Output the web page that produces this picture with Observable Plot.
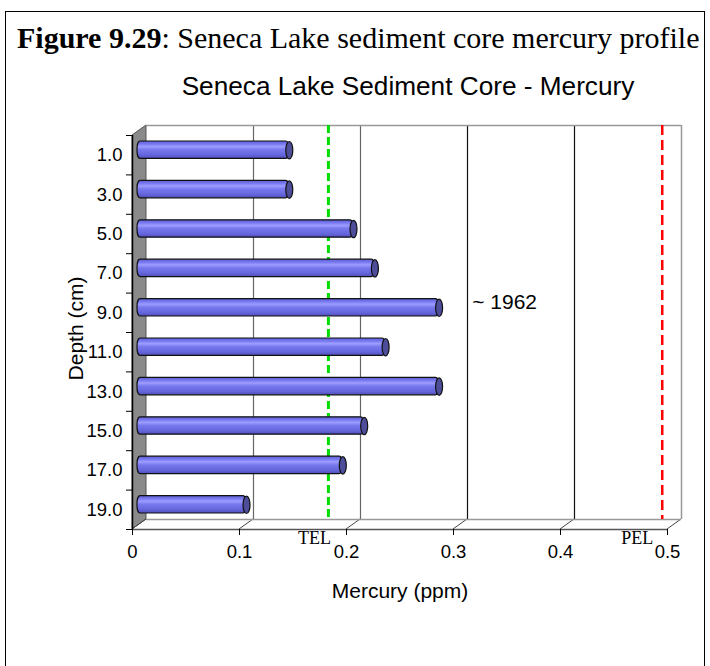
<!DOCTYPE html>
<html>
<head>
<meta charset="utf-8">
<script src="https://cdn.jsdelivr.net/npm/d3@7"></script>
<script src="https://cdn.jsdelivr.net/npm/@observablehq/plot@0.6"></script>
<style>
html, body { margin: 0; padding: 0; background: #fff; width: 710px; height: 666px; overflow: hidden; }
#chart { position: absolute; left: 0; top: 0; }
#frame { position: absolute; left: 5px; top: 11px; width: 700px; height: 720px; border: 1.5px solid #000; box-sizing: border-box; pointer-events: none; }
#title { position: absolute; left: 17px; top: 23px; font-family: "Liberation Serif", "Times New Roman", serif; font-size: 30px; line-height: 30px; white-space: nowrap; color: #000; }
#subtitle { position: absolute; left: 0; width: 816px; text-align: center; top: 73px; font-family: "Liberation Sans", Arial, sans-serif; font-size: 26.2px; line-height: 26px; white-space: nowrap; color: #000; }
</style>
</head>
<body>
<div id="chart"></div>
<div id="frame"></div>
<div id="title"><b>Figure 9.29</b>: Seneca Lake sediment core mercury profile</div>
<div id="subtitle">Seneca Lake Sediment Core - Mercury</div>
<script>
// ---- data ----
const depths = [1, 3, 5, 7, 9, 11, 13, 15, 17, 19];
const mercury = [0.14, 0.14, 0.20, 0.22, 0.28, 0.23, 0.28, 0.21, 0.19, 0.10];
const xTicks = [0, 0.1, 0.2, 0.3, 0.4, 0.5];
const gridValues = [0.1, 0.2, 0.3, 0.4];
const depthBoundaries = [0, 2, 4, 6, 8, 10, 12, 14, 16, 18, 20];
const thresholdNames = ["TEL", "PEL"];
const thresholdValues = [0.17, 0.482];
const annotationLabels = ["~ 1962"];
const annotationDepths = [9];
const annotationValues = [0.31];

const data = depths.map((d, i) => ({depth: d, mercury: mercury[i]}));
const thresholds = thresholdNames.map((n, i) => ({name: n, value: thresholdValues[i]}));
const annotations = annotationLabels.map((t, i) => ({label: t, depth: annotationDepths[i], value: annotationValues[i]}));

// 3D depth offset (pixels) of back wall
const DX = 14, DY = -10;
const sans = "'Liberation Sans', Arial, sans-serif";
const serif = "'Liberation Serif', 'Times New Roman', serif";

// ellipse symbol for the cylinder end caps
const ellipse = {
  draw(ctx) {
    const rx = 3.5, ry = 8.7, k = 0.5523;
    ctx.moveTo(rx, 0);
    ctx.bezierCurveTo(rx, ry * k, rx * k, ry, 0, ry);
    ctx.bezierCurveTo(-rx * k, ry, -rx, ry * k, -rx, 0);
    ctx.bezierCurveTo(-rx, -ry * k, -rx * k, -ry, 0, -ry);
    ctx.bezierCurveTo(rx * k, -ry, rx, -ry * k, rx, 0);
    ctx.closePath();
  }
};

// side wall and floor drawn with the plot's own scales
function frame3d(index, scales) {
  const x = scales.x, y = scales.y;
  const g = d3.create("svg:g");
  const x0 = x(xTicks[0]), yt = y(depthBoundaries[0]), yb = y(depthBoundaries[depthBoundaries.length - 1]);
  g.append("polygon")
    .attr("points", [[x0, yt], [x0 + DX, yt + DY], [x0 + DX, yb + DY], [x0, yb]].map(p => p.join(",")).join(" "))
    .attr("fill", "#8a8a8a").attr("stroke", "#555").attr("stroke-width", 1);
  for (const t of xTicks) {
    g.append("line")
      .attr("x1", x(t)).attr("y1", yb).attr("x2", x(t) + DX).attr("y2", yb + DY)
      .attr("stroke", "#444").attr("stroke-width", 1);
  }
  return g.node();
}

const svg = Plot.plot({
  width: 710,
  height: 620,
  marginLeft: 132,
  marginRight: 43,
  marginTop: 135,
  marginBottom: 91,
  style: {background: "transparent", overflow: "visible", fontFamily: sans, fontSize: "18px", color: "#000"},
  x: {domain: [0, 0.5]},
  y: {domain: [0, 20], reverse: true},
  marks: [
    frame3d,
    // back wall grid
    Plot.ruleX(gridValues.slice(0, 2), {y1: 0, y2: 20, dx: DX, dy: DY, stroke: "#666", strokeWidth: 1.2}),
    Plot.ruleX(gridValues.slice(2), {y1: 0, y2: 20, dx: DX, dy: DY, stroke: "#111", strokeWidth: 1.2}),
    Plot.ruleX([0.5], {y1: 0, y2: 20, dx: DX, dy: DY, stroke: "#999", strokeWidth: 1.5}),
    Plot.ruleY([0], {x1: 0, x2: 0.5, dx: DX, dy: DY, stroke: "#999", strokeWidth: 1.5}),
    Plot.ruleY([20], {x1: 0, x2: 0.5, dx: DX, dy: DY, stroke: "#999", strokeWidth: 1.5}),
    // threshold lines
    Plot.ruleX([thresholds[0]], {x: "value", y1: 0, y2: 20, dx: DX, dy: DY, stroke: "#00dd00", strokeWidth: 3, strokeDasharray: "8,4"}),
    Plot.ruleX([thresholds[1]], {x: "value", y1: 0, y2: 20, dx: DX, dy: DY, stroke: "#ff0000", strokeWidth: 2.5, strokeDasharray: "10,5"}),
    // front floor edge and axis line
    Plot.ruleY([20], {x1: 0, x2: 0.5, stroke: "#555", strokeWidth: 1.5}),
    Plot.ruleX([0], {y1: 0, y2: 20, stroke: "#000", strokeWidth: 1.5}),
    // cylinder bars
    Plot.rectX(data, {x: "mercury", y: "depth", interval: 2, insetTop: 11, insetBottom: 11, insetLeft: -2,
      rx: 3, ry: 8, fill: "url(#cylGrad)", stroke: "#111", strokeWidth: 1.2, dx: 7, dy: -5}),
    Plot.dot(data, {x: "mercury", y: "depth", symbol: ellipse, fill: "#4d4d9a", stroke: "#111", strokeWidth: 1.2, dx: 7, dy: -5}),
    // axes
    Plot.axisX(xTicks, {anchor: "bottom", tickSize: 6, tickPadding: 9, tickFormat: d => String(d), label: null, fontSize: 18.5}),
    Plot.axisY(depths, {anchor: "left", tickSize: 0, tickPadding: 10, tickFormat: d3.format(".1f"), label: null, fontSize: 18.5}),
    Plot.axisY(depthBoundaries, {anchor: "left", tickSize: 6, tickFormat: () => "", label: null}),
    // labels
    Plot.text(["Mercury (ppm)"], {frameAnchor: "bottom", textAnchor: "middle", lineAnchor: "bottom", dy: 68, fontSize: 21}),
    Plot.text(["Depth (cm)"], {frameAnchor: "left", textAnchor: "middle", rotate: -90, lineAnchor: "bottom", dx: -50, dy: -4, fontSize: 21}),
    Plot.text(annotations, {x: "value", y: "depth", text: "label", textAnchor: "start", lineAnchor: "bottom", dx: 8, dy: -4, fontSize: 21}),
    Plot.text([thresholds[0]], {x: "value", y: () => 20, text: "name", fontFamily: serif, fontSize: 18, lineAnchor: "bottom", dy: 14}),
    Plot.text([thresholds[1]], {x: "value", y: () => 20, text: "name", fontFamily: serif, fontSize: 18, lineAnchor: "bottom", dy: 14, dx: -11})
  ]
});

d3.select(svg).insert("defs", ":first-child").html(`
  <linearGradient id="cylGrad" x1="0" y1="0" x2="0" y2="1">
    <stop offset="0" stop-color="#5c5cd2"/>
    <stop offset="0.18" stop-color="#7a7af2"/>
    <stop offset="0.32" stop-color="#9d9dff"/>
    <stop offset="0.5" stop-color="#7878ee"/>
    <stop offset="0.8" stop-color="#6666dc"/>
    <stop offset="1" stop-color="#4e4eba"/>
  </linearGradient>`);

document.getElementById("chart").appendChild(svg);
</script>
</body>
</html>
